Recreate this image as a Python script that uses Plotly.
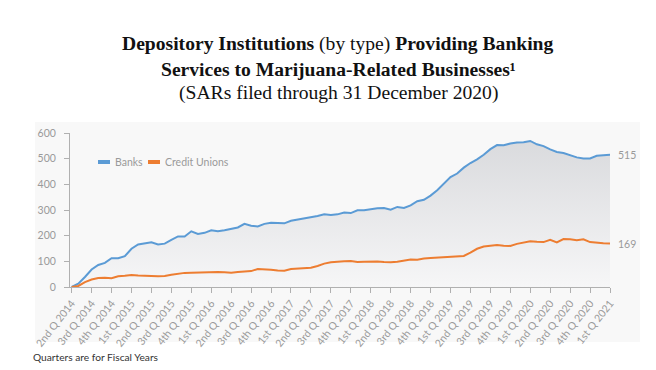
import plotly.graph_objects as go

# ---------------- data ----------------
quarter_labels = [
    "2nd Q 2014", "3rd Q 2014", "4th Q 2014",
    "1st Q 2015", "2nd Q 2015", "3rd Q 2015", "4th Q 2015",
    "1st Q 2016", "2nd Q 2016", "3rd Q 2016", "4th Q 2016",
    "1st Q 2017", "2nd Q 2017", "3rd Q 2017", "4th Q 2017",
    "1st Q 2018", "2nd Q 2018", "3rd Q 2018", "4th Q 2018",
    "1st Q 2019", "2nd Q 2019", "3rd Q 2019", "4th Q 2019",
    "1st Q 2020", "2nd Q 2020", "3rd Q 2020", "4th Q 2020",
    "1st Q 2021",
]

# monthly observations (3 per quarter), index 0 = start of 2nd Q 2014
banks = [
    0, 13, 39, 68, 86, 94, 112, 112, 120, 149,
    166, 171, 174, 166, 169, 184, 197, 197, 217, 207,
    211, 221, 217, 221, 228, 232, 246, 239, 236, 246,
    250, 250, 248, 258, 263, 265, 270, 277, 283, 281,
    283, 290, 288, 299, 299, 304, 307, 308, 301, 312,
    308, 318, 334, 340, 356, 377, 403, 428, 442, 465,
    483, 497, 515, 537, 553, 552, 559, 563, 564, 569,
    556, 549, 536, 526, 522, 513, 505, 501, 501, 511,
    513, 515,
]
credit_unions = [
    0, 4, 19, 29, 35, 36, 34, 42, 44, 47,
    45, 45, 43, 42, 43, 48, 52, 55, 56, 57,
    58, 59, 58, 57, 56, 58, 61, 62, 70, 69,
    67, 64, 63, 70, 71, 72, 75, 82, 91, 96,
    99, 100, 101, 97, 98, 99, 99, 97, 96, 98,
    103, 107, 106, 111, 113, 115, 116, 119, 120, 121,
    134, 149, 158, 162, 164, 161, 160, 168, 173, 178,
    176, 175, 184, 174, 187, 186, 182, 186, 175, 172,
    170, 169,
]
months = list(range(len(banks)))
quarter_ticks = [3 * i for i in range(len(quarter_labels))]

series_names = ["Banks", "Credit Unions"]
title_line1_bold_a = "Depository Institutions"
title_line1_normal = "(by type)"
title_line1_bold_b = "Providing Banking"
title_line2 = "Services to Marijuana-Related Businesses¹"
title_line3 = "(SARs filed through 31 December 2020)"
footnote = "Quarters are for Fiscal Years"

# ---------------- style ----------------
W, H = 656, 370
L, R, T, B = 70, 46, 133, 83
PW, PH = W - L - R, H - T - B
BLUE = "#5B9BD5"
ORANGE = "#ED7D31"
GREY_TXT = "#9a9a9a"
AXIS = "#b0b0b0"
SANS = "Lato"
SERIF = "Liberation Serif"


def px_x(px):
    return (px - L) / PW


def px_y(py):
    return (H - B - py) / PH


fig = go.Figure()

fig.add_trace(go.Scatter(
    x=months, y=banks, mode="lines", name=series_names[0],
    line=dict(color=BLUE, width=2),
    fill="tozeroy",
    fillgradient=dict(type="vertical", start=0, stop=600,
                      colorscale=[[0, "#f6f6f7"], [1, "#d8d9dc"]]),
    showlegend=False, hoverinfo="skip",
))
fig.add_trace(go.Scatter(
    x=months, y=credit_unions, mode="lines", name=series_names[1],
    line=dict(color=ORANGE, width=2),
    showlegend=False, hoverinfo="skip",
))

shapes = [
    # light panel behind the chart
    dict(type="rect", xref="paper", yref="paper",
         x0=px_x(35), x1=px_x(640), y0=px_y(342), y1=px_y(122),
         fillcolor="#f8f8f8", line=dict(width=0), layer="below"),
    # legend keys
    dict(type="line", xref="paper", yref="paper",
         x0=px_x(98), x1=px_x(110), y0=px_y(162), y1=px_y(162),
         line=dict(color=BLUE, width=4)),
    dict(type="line", xref="paper", yref="paper",
         x0=px_x(148), x1=px_x(160), y0=px_y(162), y1=px_y(162),
         line=dict(color=ORANGE, width=4)),
]

annotations = [
    dict(xref="paper", yref="paper", x=px_x(338), y=px_y(44),
         text=f"<b>{title_line1_bold_a}</b> {title_line1_normal} <b>{title_line1_bold_b}</b>",
         showarrow=False, xanchor="center", yanchor="middle",
         font=dict(family=SERIF, size=19.6, color="#111")),
    dict(xref="paper", yref="paper", x=px_x(338), y=px_y(69),
         text=f"<b>{title_line2}</b>",
         showarrow=False, xanchor="center", yanchor="middle",
         font=dict(family=SERIF, size=19.6, color="#111")),
    dict(xref="paper", yref="paper", x=px_x(338), y=px_y(93),
         text=title_line3,
         showarrow=False, xanchor="center", yanchor="middle",
         font=dict(family=SERIF, size=19.6, color="#111")),
    dict(xref="paper", yref="paper", x=px_x(113), y=px_y(162),
         text=series_names[0], showarrow=False, xanchor="left", yanchor="middle",
         font=dict(family=SANS, size=10.5, color=GREY_TXT)),
    dict(xref="paper", yref="paper", x=px_x(163), y=px_y(162),
         text=series_names[1], showarrow=False, xanchor="left", yanchor="middle",
         font=dict(family=SANS, size=10.5, color=GREY_TXT)),
    dict(x=months[-1], y=banks[-1], text=str(banks[-1]), showarrow=False,
         xanchor="left", yanchor="middle", xshift=6,
         font=dict(family=SANS, size=10.5, color=GREY_TXT)),
    dict(x=months[-1], y=credit_unions[-1], text=str(credit_unions[-1]), showarrow=False,
         xanchor="left", yanchor="middle", xshift=6,
         font=dict(family=SANS, size=10.5, color=GREY_TXT)),
    dict(xref="paper", yref="paper", x=px_x(31), y=px_y(357),
         text=footnote, showarrow=False, xanchor="left", yanchor="middle",
         font=dict(family=SANS, size=10.2, color="#333")),
]

fig.update_layout(
    width=W, height=H,
    margin=dict(l=L, r=R, t=T, b=B, pad=0, autoexpand=False),
    paper_bgcolor="white",
    plot_bgcolor="rgba(0,0,0,0)",
    shapes=shapes,
    annotations=annotations,
    showlegend=False,
    xaxis=dict(
        range=[-0.25, months[-1]],
        tickmode="array", tickvals=quarter_ticks, ticktext=quarter_labels,
        tickangle=-52, ticks="outside", ticklen=5, tickcolor=AXIS,
        showline=True, linecolor=AXIS, linewidth=1,
        showgrid=False, zeroline=False, automargin=False,
        tickfont=dict(family=SANS, size=10.5, color=GREY_TXT),
    ),
    yaxis=dict(
        range=[0, 600], dtick=100, tick0=0,
        ticks="outside", ticklen=5, tickcolor=AXIS,
        showline=True, linecolor=AXIS, linewidth=1,
        showgrid=False, zeroline=False, automargin=False,
        ticklabelstandoff=6,
        tickfont=dict(family=SANS, size=10.5, color=GREY_TXT),
    ),
)

fig.write_html(
    "out.html",
    config={"displayModeBar": False},
    post_script="document.body.style.margin='0px';document.body.style.overflow='hidden';",
)
